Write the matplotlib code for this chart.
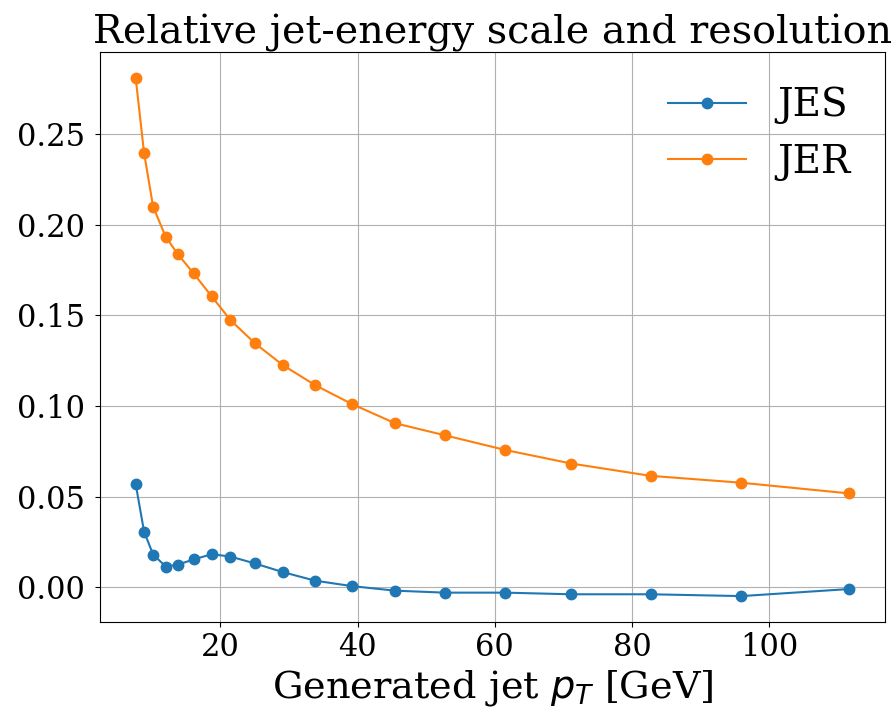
import matplotlib
matplotlib.use("Agg")
import matplotlib.pyplot as plt
import numpy as np

# generated jet pT bin centres [GeV]
pt = [7.64, 8.86, 10.18, 12.03, 13.75, 16.09, 18.73, 21.45, 25.02, 29.12,
      33.81, 39.17, 45.46, 52.69, 61.48, 71.14, 82.71, 95.97, 111.7]
jes = [0.0570, 0.0308, 0.0181, 0.0115, 0.0125, 0.0154, 0.0183, 0.0170, 0.0132, 0.0084,
       0.0037, 0.0007, -0.0018, -0.0029, -0.0029, -0.0038, -0.0038, -0.0048, -0.0009]
jer = [0.2809, 0.2396, 0.2099, 0.1932, 0.1839, 0.1731, 0.1604, 0.1474, 0.1346, 0.1225,
       0.1115, 0.1011, 0.0905, 0.0839, 0.0758, 0.0683, 0.0615, 0.0577, 0.0518]

plt.rcParams['font.family'] = 'DejaVu Serif'

fig = plt.figure(figsize=(8.95, 7.13), dpi=100)
ax = fig.add_axes([100/895, 1-622/713, 785/895, 570/713])
ax.plot(pt, jes, 'o-', ms=7.5, label='JES')
ax.plot(pt, jer, 'o-', ms=7.5, label='JER')
ax.grid(True)
ax.tick_params(labelsize=22)
ax.tick_params(axis='y', pad=7.5)
ax.set_xlabel('Generated jet $p_T$ [GeV]', fontsize=27.5)
ax.set_title('Relative jet-energy scale and resolution', fontsize=28.5)
ax.legend(fontsize=28, frameon=False)
fig.savefig('out.png', dpi=100)
